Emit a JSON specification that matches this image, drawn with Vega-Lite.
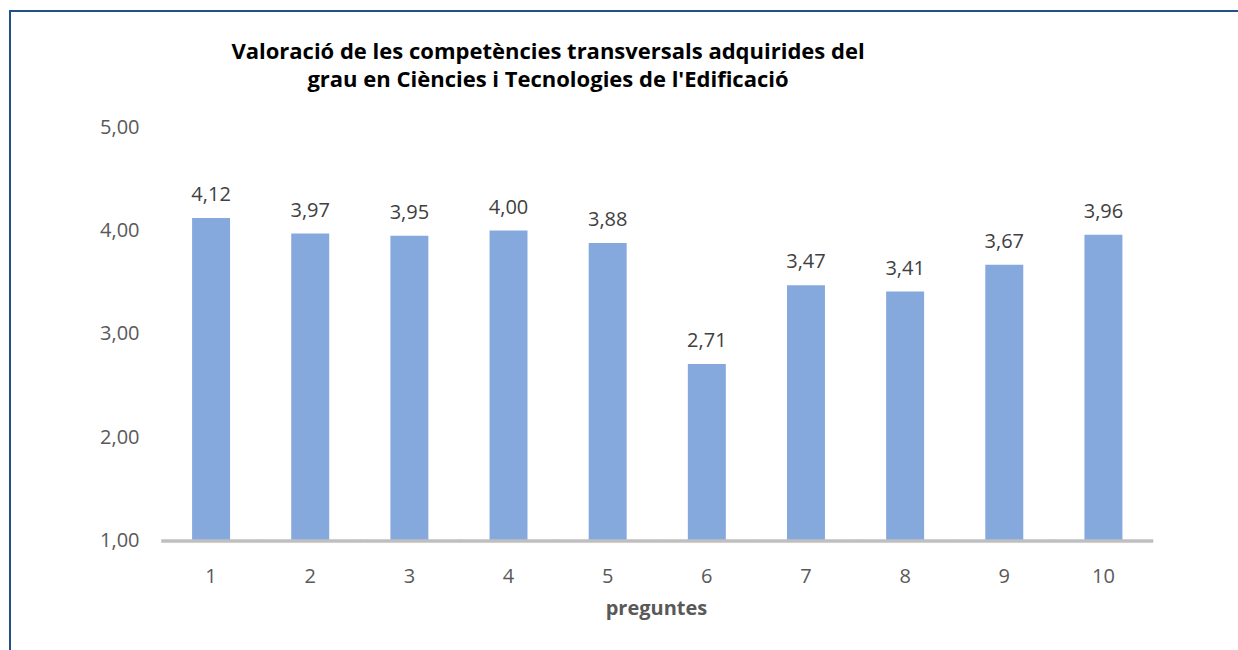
{
  "$schema": "https://vega.github.io/schema/vega-lite/v6.json",
  "width": 1230,
  "height": 641,
  "autosize": {"type": "none"},
  "padding": {"left": 10, "top": 11, "right": -2, "bottom": -2},
  "background": "white",
  "title": {
    "text": ["Valoració de les competències transversals adquirides del", "grau en Ciències i Tecnologies de l'Edificació"],
    "font": "Open Sans",
    "fontSize": 22,
    "fontWeight": "bold",
    "color": "#000000",
    "lineHeight": 28,
    "anchor": "middle",
    "frame": "group",
    "dx": -77,
    "offset": -81
  },
  "data": {
    "values": [
      {"pregunta": "1", "valor": 4.12, "etiqueta": "4,12"},
      {"pregunta": "2", "valor": 3.97, "etiqueta": "3,97"},
      {"pregunta": "3", "valor": 3.95, "etiqueta": "3,95"},
      {"pregunta": "4", "valor": 4.00, "etiqueta": "4,00"},
      {"pregunta": "5", "valor": 3.88, "etiqueta": "3,88"},
      {"pregunta": "6", "valor": 2.71, "etiqueta": "2,71"},
      {"pregunta": "7", "valor": 3.47, "etiqueta": "3,47"},
      {"pregunta": "8", "valor": 3.41, "etiqueta": "3,41"},
      {"pregunta": "9", "valor": 3.67, "etiqueta": "3,67"},
      {"pregunta": "10", "valor": 3.96, "etiqueta": "3,96"}
    ]
  },
  "encoding": {
    "x": {
      "field": "pregunta",
      "type": "ordinal",
      "sort": null,
      "scale": {"range": [151.5, 1143], "paddingInner": 0, "paddingOuter": 0},
      "axis": {
        "labelAngle": 0,
        "domain": false,
        "ticks": false,
        "offset": -111,
        "labelFont": "Open Sans",
        "labelFontSize": 20,
        "labelColor": "#595959",
        "labelPadding": 25,
        "title": "preguntes",
        "titleX": 646,
        "titleFont": "Open Sans",
        "titleFontSize": 20,
        "titleFontWeight": "bold",
        "titleColor": "#595959",
        "titlePadding": 12
      }
    }
  },
  "layer": [
    {
      "mark": {"type": "bar", "color": "#86A9DD", "width": {"band": 0.383}},
      "encoding": {
        "y": {
          "field": "valor",
          "type": "quantitative",
          "scale": {"domain": [-0.0725, 6.1208], "nice": false, "zero": false},
          "axis": {
            "values": [1, 2, 3, 4, 5],
            "labelExpr": "replace(format(datum.value, '.2f'), '.', ',')",
            "grid": false,
            "ticks": false,
            "domain": false,
            "offset": -151,
            "labelFont": "Open Sans",
            "labelFontSize": 20,
            "labelColor": "#595959",
            "labelPadding": 22,
            "title": null
          }
        },
        "y2": {"datum": 1}
      }
    },
    {
      "mark": {"type": "bar", "color": "#BFBFBF", "stroke": "#BFBFBF", "strokeWidth": 0.5},
      "encoding": {
        "y": {"datum": 1.015, "type": "quantitative"},
        "y2": {"datum": 0.985}
      }
    },
    {
      "mark": {"type": "text", "font": "Open Sans", "fontSize": 20, "color": "#404040", "baseline": "alphabetic", "dy": -17},
      "encoding": {
        "y": {"field": "valor", "type": "quantitative"},
        "text": {"field": "etiqueta"}
      }
    }
  ],
  "config": {"view": {"stroke": "#24508A", "strokeWidth": 2}}
}
